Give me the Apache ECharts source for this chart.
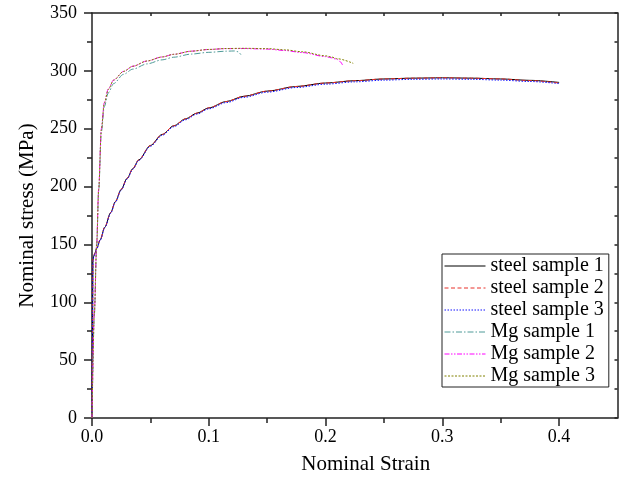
<!DOCTYPE html>
<html><head><meta charset="utf-8">
<script src="https://cdn.jsdelivr.net/npm/echarts@6/dist/echarts.min.js"></script>
<style>html,body{margin:0;padding:0;background:#fff}#c{width:619px;height:481px}</style>
</head><body><div id="c"></div>
<script>
// ---- data (strain, stress MPa) ----
const seriesNames = ['steel sample 1','steel sample 2','steel sample 3','Mg sample 1','Mg sample 2','Mg sample 3'];
const xTicks = [0, 0.1, 0.2, 0.3, 0.4];
const xMinorTicks = [0.05, 0.15, 0.25, 0.35];
const xTopTicks = [0.05, 0.1, 0.15, 0.2, 0.25, 0.3, 0.35, 0.4];

const steelStrain = [0, 0.0004, 0.0008, 0.0015, 0.0025, 0.004, 0.007, 0.011, 0.016, 0.02, 0.025, 0.03, 0.035, 0.04, 0.05, 0.06, 0.07, 0.08, 0.09, 0.1, 0.115, 0.13, 0.15, 0.175, 0.2, 0.225, 0.25, 0.275, 0.3, 0.325, 0.35, 0.375, 0.4];
const steel1 = [0, 70, 136, 140, 142.5, 146.5, 154, 165, 177.5, 187, 197.5, 207, 215.5, 223, 235.5, 245, 252.5, 258.5, 263.5, 268, 273.5, 278, 282.5, 286.5, 289.5, 291.5, 293, 293.7, 294, 293.7, 293, 291.8, 290];
const steel2 = [0, 72, 137, 140.5, 142.5, 146.5, 154, 165, 177.5, 187, 197.5, 207, 215.5, 223, 235.5, 245, 252.5, 258.5, 263.5, 268, 273.5, 278, 282.5, 286.5, 289.5, 291.5, 293, 293.7, 294, 293.7, 293, 291.6, 289.5];
const steel3 = [0, 68, 135, 139.5, 142, 146, 153.5, 164.5, 177, 186.5, 197, 206.5, 215, 222.5, 234.8, 244.2, 251.7, 257.7, 262.7, 267.2, 272.6, 277.1, 281.6, 285.6, 288.5, 290.5, 292, 292.7, 293, 292.7, 292, 290.8, 289];

const mgStrain = [0, 0.002, 0.004, 0.0057, 0.008, 0.0105, 0.014, 0.0185, 0.027, 0.035, 0.047, 0.06, 0.07, 0.085, 0.1, 0.115, 0.13, 0.15, 0.165, 0.18, 0.2, 0.205, 0.21];
const mg3 = [0, 90, 150, 197, 249, 272, 284, 292, 299.5, 304, 308.5, 312, 314.3, 317, 318.5, 319.3, 319.5, 319.2, 318.2, 316.5, 313, 312, 310.5];
const mg3TailStrain = [0.2237];
const mg3Tail = [306.5];
const mg2 = [0, 91, 151, 198, 250, 272.5, 284.5, 292, 299.5, 304, 308.5, 312, 314.3, 317, 318.5, 319.2, 319.3, 318.8, 317.6, 315.8, 312.3, 311.3, 309.8];
const mg2TailStrain = [0.2125, 0.2148];
const mg2Tail = [308, 304.5];
const mg1Strain = [0, 0.002, 0.004, 0.0057, 0.008, 0.0105, 0.014, 0.0185, 0.027, 0.035, 0.047, 0.06, 0.07, 0.085, 0.1, 0.115, 0.122, 0.125, 0.1275];
const mg1 = [0, 89, 149, 196, 247, 269, 281, 289, 297, 301.5, 306, 309.5, 311.8, 314.5, 316, 317, 317.2, 316.5, 314];

function zip(xs, ys) { return xs.map((x, i) => [x, ys[i]]); }
const dataSets = [
  zip(steelStrain, steel1),
  zip(steelStrain, steel2),
  zip(steelStrain, steel3),
  zip(mg1Strain, mg1),
  zip(mgStrain.concat(mg2TailStrain), mg2.concat(mg2Tail)),
  zip(mgStrain.concat(mg3TailStrain), mg3.concat(mg3Tail))
];
const styles = [
  {color: '#000000', type: 'solid'},
  {color: '#e8302a', type: [4, 2.5]},
  {color: '#1010ff', type: [1.5, 1.5]},
  {color: '#4f9a98', type: [6, 2, 1.5, 2]},
  {color: '#ff00ff', type: [5, 1.5, 1.5, 1.5, 1.5, 1.5]},
  {color: '#808000', type: [2, 1.5]}
];

const font = 'Liberation Serif, Times New Roman, serif';
const axisColor = '#222';
const chart = echarts.init(document.getElementById('c'), null, {renderer: 'canvas'});
chart.setOption({
  animation: false,
  backgroundColor: '#fff',
  grid: {left: 92, right: 1.5, top: 13, bottom: 63, containLabel: false},
  legend: {
    orient: 'vertical', left: 442, top: 254,
    padding: [1, 5, 0, 2], itemGap: 0,
    itemWidth: 41, itemHeight: 2,
    itemStyle: {opacity: 0},
    lineStyle: {width: 1},
    borderColor: '#222', borderWidth: 1, backgroundColor: '#fff',
    textStyle: {fontFamily: font, fontSize: 20, color: '#000', lineHeight: 22, padding: [0, 0, 0, 0]},
    data: seriesNames
  },
  xAxis: [
    {type: 'value', min: 0, max: 0.45, interval: 0.05, position: 'bottom',
     name: 'Nominal Strain', nameLocation: 'middle', nameGap: 36,
     nameTextStyle: {fontFamily: font, fontSize: 21, color: '#000', padding: [0, 0, 0, 22]},
     axisLine: {show: true, onZero: false, lineStyle: {color: axisColor, width: 1.5}},
     axisTick: {show: true, inside: false, length: 8, customValues: xTicks, lineStyle: {color: axisColor, width: 1.5}},
     axisLabel: {show: true, customValues: xTicks, margin: 10, fontFamily: font, fontSize: 18, color: '#000',
       formatter: v => v.toFixed(1)},
     splitLine: {show: false}},
    {type: 'value', min: 0, max: 0.45, interval: 0.05, position: 'bottom',
     axisLine: {show: false}, axisLabel: {show: false}, splitLine: {show: false},
     axisTick: {show: true, length: 5, customValues: xMinorTicks, lineStyle: {color: axisColor, width: 1.5}}},
    {type: 'value', min: 0, max: 0.45, interval: 0.05, position: 'top',
     axisLine: {show: true, onZero: false, lineStyle: {color: axisColor, width: 1.5}},
     axisLabel: {show: false}, splitLine: {show: false},
     axisTick: {show: true, inside: true, length: 3, customValues: xTopTicks, lineStyle: {color: axisColor, width: 1.5}}}
  ],
  yAxis: [
    {type: 'value', min: 0, max: 350, interval: 50, position: 'left',
     name: 'Nominal stress (MPa)', nameLocation: 'middle', nameGap: 54,
     nameTextStyle: {fontFamily: font, fontSize: 21, color: '#000'},
     axisLine: {show: true, onZero: false, lineStyle: {color: axisColor, width: 1.5}},
     axisTick: {show: true, length: 8, lineStyle: {color: axisColor, width: 1.5}},
     minorTick: {show: true, splitNumber: 2, length: 5, lineStyle: {color: axisColor, width: 1.5}},
     axisLabel: {margin: 15, fontFamily: font, fontSize: 18, color: '#000'},
     splitLine: {show: false}},
    {type: 'value', min: 0, max: 350, interval: 25, position: 'right',
     axisLine: {show: true, onZero: false, lineStyle: {color: axisColor, width: 1.5}},
     axisTick: {show: true, inside: true, length: 3, lineStyle: {color: axisColor, width: 1.5}},
     axisLabel: {show: false}, splitLine: {show: false}}
  ],
  series: dataSets.map((d, i) => ({
    name: seriesNames[i], type: 'line', xAxisIndex: 0, yAxisIndex: 0,
    data: d, showSymbol: false, symbol: 'none', smooth: 0.3, smoothMonotone: 'x',
    lineStyle: {color: styles[i].color, type: styles[i].type, width: 1},
    itemStyle: {color: styles[i].color},
    z: 2 + i
  }))
});
</script></body></html>
